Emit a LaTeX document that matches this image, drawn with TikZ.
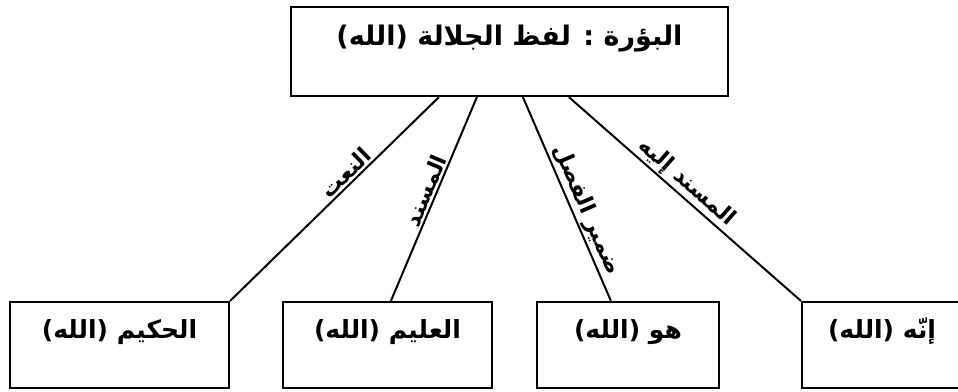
\documentclass[tikz,border=0pt]{standalone}
\usepackage{fontspec}
\TeXXeTstate=1
\newfontfamily\arabicfont[Script=Arabic]{DejaVu Sans}
\usetikzlibrary{calc}
\begin{document}
\begin{tikzpicture}[x=1pt,y=1pt,
  box/.style={draw, line width=2.2pt, inner sep=0pt, text height=20pt, text depth=33pt,
    font=\arabicfont\bfseries\fontsize{25}{25}\selectfont},
  conn/.style={line width=2pt},
  lab/.style={font=\arabicfont\bfseries\fontsize{22}{22}\selectfont, sloped, anchor=south, inner sep=1.5pt}]
\useasboundingbox (0,0) rectangle (958,-391);
\node[box, minimum width=437, minimum height=89] (top) at (509.5,-51.5)
  {\fontsize{27}{27}\selectfont\beginR البؤرة : لفظ الجلالة (الله)\endR};
\node[box, minimum width=219, minimum height=86] (b1) at (119.5,-345)
  {\beginR الحكيم (الله)\endR};
\node[box, minimum width=209, minimum height=86] (b2) at (387.5,-345)
  {\beginR العليم (الله)\endR};
\node[box, minimum width=182, minimum height=86] (b3) at (628,-345)
  {\beginR هو (الله)\endR};
\node[box, minimum width=160, minimum height=86] (b4) at (882,-345)
  {\beginR إنّه (الله)\endR};
\draw[conn] ($(top.south west)+(149,0)$) -- (b1.north east)
  node[lab, pos=0.41] {\arabicfont\beginR النعت\endR};
\draw[conn] ($(top.south west)+(187,0)$) -- ($(b2.north west)+(109,0)$)
  node[lab, pos=0.48] {\arabicfont\beginR المسند\endR};
\draw[conn] ($(top.south west)+(233,0)$) -- ($(b3.north west)+(75,0)$)
  node[lab, pos=0.58] {\arabicfont\beginR ضمير الفصل\endR};
\draw[conn] ($(top.south west)+(279,0)$) -- (b4.north west)
  node[lab, pos=0.47] {\arabicfont\beginR المسند إليه\endR};
\end{tikzpicture}
\end{document}
